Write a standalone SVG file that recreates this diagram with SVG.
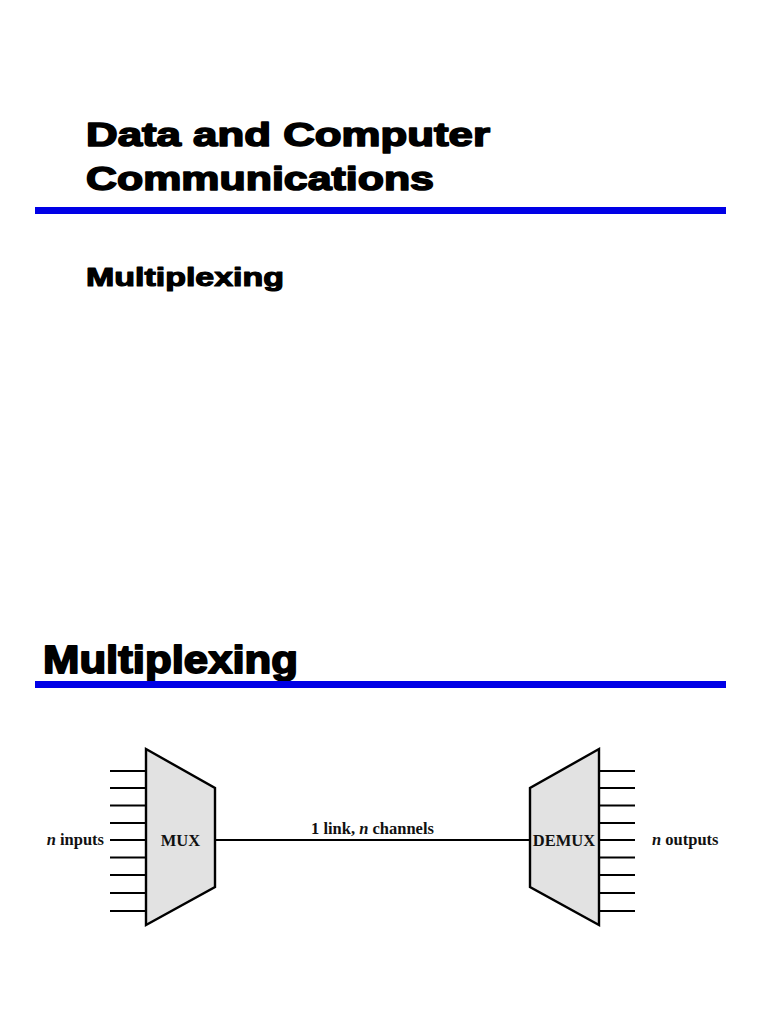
<svg xmlns="http://www.w3.org/2000/svg" width="768" height="1024" viewBox="0 0 768 1024">
<style>
.h{font-family:"Liberation Sans",Arial,sans-serif;font-weight:bold;fill:#000;stroke:#000;stroke-width:1.6;stroke-linejoin:round}
.bar{fill:#0000e6}
.t{font-family:"Liberation Serif","Times New Roman",serif;font-weight:bold;font-size:16.5px;fill:#111}
.box{fill:#e2e2e2;stroke:#000;stroke-width:2.4;stroke-linejoin:miter}
.ld{stroke:#000;stroke-width:1.8;fill:none}
</style>
<rect width="768" height="1024" fill="#fff"/>
<g id="slide1">
<text class="h" x="86" y="146" font-size="33" textLength="404" lengthAdjust="spacingAndGlyphs">Data and Computer</text>
<text class="h" x="86" y="190" font-size="33" textLength="348" lengthAdjust="spacingAndGlyphs">Communications</text>
<rect class="bar" x="35" y="207" width="691" height="7"/>
<text class="h" x="86" y="286" font-size="26.5" textLength="198" lengthAdjust="spacingAndGlyphs" style="stroke-width:1.2">Multiplexing</text>
</g>
<g id="slide2">
<text class="h" x="43" y="673" font-size="38" textLength="255" lengthAdjust="spacingAndGlyphs" style="stroke-width:1.8">Multiplexing</text>
<rect class="bar" x="35" y="681" width="691" height="7"/>
</g>
<g id="connectors">
<path class="ld" d="M110 771H146M110 788H146M110 805.5H146M110 823H146M110 840H146M110 857.5H146M110 875H146M110 893H146M110 911H146"/>
<path class="ld" d="M599 771H635M599 788H635M599 805.5H635M599 823H635M599 840H635M599 857.5H635M599 875H635M599 893H635M599 911H635"/>
<line id="link" class="ld" x1="215" y1="840" x2="530" y2="840"/>
</g>
<g id="mux">
<polygon class="box" points="146,749 215,788 215,887 146,925"/>
<text class="t" x="180.5" y="846" text-anchor="middle">MUX</text>
</g>
<g id="demux">
<polygon class="box" points="599,749 530,788 530,887 599,925"/>
<text class="t" x="564" y="846" text-anchor="middle">DEMUX</text>
</g>
<text class="t" x="104" y="845" text-anchor="end"><tspan font-style="italic">n</tspan> inputs</text>
<text class="t" x="652" y="845"><tspan font-style="italic">n</tspan> outputs</text>
<text class="t" x="372.5" y="834" text-anchor="middle">1 link, <tspan font-style="italic">n</tspan> channels</text>
</svg>
